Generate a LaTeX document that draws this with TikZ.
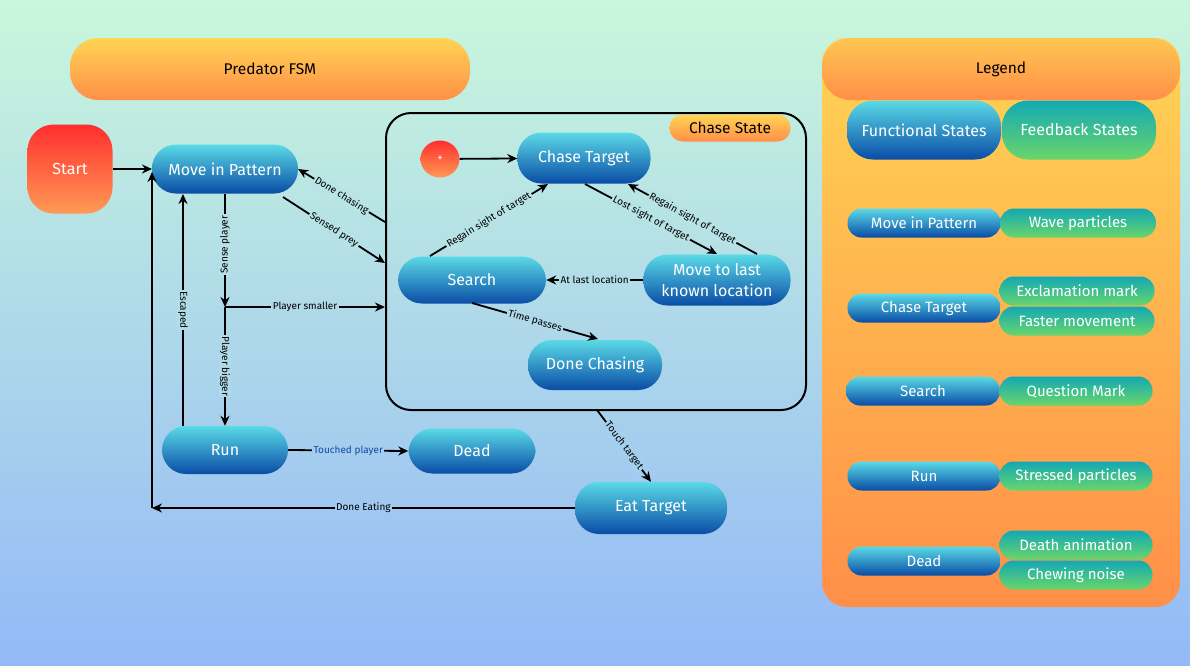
\documentclass[tikz,border=0pt]{standalone}
\usepackage{fontspec}
\setmainfont{Fira Sans}
\usetikzlibrary{arrows.meta,positioning,shapes.geometric}
\definecolor{bgtop}{HTML}{C9F7DC}
\definecolor{bgbot}{HTML}{93B9F7}
\definecolor{btop}{HTML}{5ADAE6}
\definecolor{bbot}{HTML}{0A4CA6}
\definecolor{gtop}{HTML}{12A9B4}
\definecolor{gbot}{HTML}{6AD56A}
\definecolor{otop}{HTML}{FFD454}
\definecolor{obot}{HTML}{FF8F48}
\definecolor{rtop}{HTML}{FF2E2E}
\definecolor{rbot}{HTML}{FF9A55}
\definecolor{lblue}{HTML}{0A4CA6}
\tikzset{
 x=1pt,y=-1pt,
 st/.style={minimum width=#1,inner sep=0pt,text=white,font=\fontsize{16}{18}\selectfont,top color=btop,bottom color=bbot,align=center},
 bs/.style={st=#1,minimum height=49,rounded corners=24},
 ls/.style={st=#1,minimum height=29,rounded corners=14,font=\fontsize{15}{17}\selectfont},
 gs/.style={ls=#1,top color=gtop,bottom color=gbot},
 os/.style={minimum width=#1,inner sep=0pt,top color=otop,bottom color=obot,font=\fontsize{15.5}{17}\selectfont},
 ar/.style={draw=black,line width=1.8pt,-{Stealth[length=10pt,width=9pt]}},
 lb/.style={font=\fontsize{10}{12}\selectfont,inner sep=1.5pt,fill=#1},
}
\begin{document}
\begin{tikzpicture}
\shade[top color=bgtop,bottom color=bgbot] (0,0) rectangle (1190,665);
\useasboundingbox (0,0) rectangle (1190,665);
% header
\node[os=400,minimum height=62,rounded corners=28] (title) at (270,69) {Predator FSM};
% legend panel
\shade[top color=otop,bottom color=obot,rounded corners=25] (822,38) rectangle (1180,607);
\node[os=358,minimum height=62,rounded corners=28,top color=otop!80!obot] (leg) at (1001,69) {Legend};
\node[st=154,minimum height=59,rounded corners=26] (lf) at (924,130) {Functional States};
\node[st=154,minimum height=59,rounded corners=26,top color=gtop,bottom color=gbot] (lfb) at (1079,130) {Feedback States};
\node[ls=153] (l1) at (924,223) {Move in Pattern};
\node[gs=156] (l1f) at (1078,223) {Wave particles};
\node[ls=153] (l2) at (924,308) {Chase Target};
\node[gs=155] (l2a) at (1077,291) {Exclamation mark};
\node[gs=155] (l2b) at (1077,321) {Faster movement};
\node[ls=154] (l3) at (923,391) {Search};
\node[gs=153] (l3f) at (1076,391) {Question Mark};
\node[ls=153] (l4) at (924,476) {Run};
\node[gs=153] (l4f) at (1076,476) {Stressed particles};
\node[ls=153] (l5) at (924,561) {Dead};
\node[gs=153] (l5a) at (1076,545) {Death animation};
\node[gs=153] (l5b) at (1076,575) {Chewing noise};
% chase box
\draw[line width=2pt,rounded corners=25] (386,113) rectangle (806,410);
\node[os=121,minimum height=27,rounded corners=13] (cs) at (730,128) {Chase State};
% nodes
\node[minimum width=85,minimum height=89,inner sep=0pt,rounded corners=26,top color=rtop,bottom color=rbot,text=white,font=\fontsize{16}{18}\selectfont] (start) at (70,169) {Start};
\node[bs=146] (mip) at (225,169) {Move in Pattern};
\node[ellipse,minimum width=39,minimum height=37,inner sep=0pt,top color=rtop,bottom color=rbot,text=white,font=\fontsize{11}{12}\selectfont] (plus) at (440,159) {+};
\node[bs=133,minimum height=51] (ct) at (584,158) {Chase Target};
\node[bs=148,minimum height=47] (se) at (472,280) {Search};
\node[bs=147,minimum height=51,font=\fontsize{16}{21}\selectfont] (mtl) at (717,280) {Move to last\\known location};
\node[bs=134,minimum height=50] (dc) at (595,365) {Done Chasing};
\node[bs=126,minimum height=48] (run) at (225,450) {Run};
\node[bs=127,minimum height=45] (dead) at (472,451) {Dead};
\node[bs=152,minimum height=52] (eat) at (651,508) {Eat Target};
% coordinates
\coordinate (eatL) at (152,508);
\coordinate (mipL) at (152,172);
\coordinate (j) at (225,307);
\coordinate (bxA) at (385,222);
\coordinate (bxB) at (385,263);
\coordinate (bxC) at (385,307);
\coordinate (bxD) at (597,410);
\coordinate (escA) at (183,426);
\coordinate (escB) at (183,194);
% edges
\draw[ar] (start.east) -- (152,169);
\draw[ar] (eat.west) -- node[lb=bgtop!24!bgbot]{Done Eating} (eatL);
\draw[ar] (eatL) -- (mipL);
\draw[ar] (mip.south) -- node[lb=bgtop!63!bgbot,rotate=90,pos=0.45]{Sense player} (j);
\draw[ar] (j) -- node[lb=bgtop!54!bgbot,rotate=-90]{Player bigger} (run.north);
\draw[ar] (j) -- node[lb=bgtop!54!bgbot]{Player smaller} (bxC);
\draw[ar] (escA) -- node[lb=bgtop!58!bgbot,rotate=-90]{Escaped} (escB);
\draw[ar] (283,197) -- node[lb=bgtop!66!bgbot,sloped]{Sensed prey} (bxB);
\draw[ar] (bxA) -- node[lb=bgtop!70!bgbot,sloped]{Done chasing} (mip.east);
\draw[ar] (plus) -- (ct);
\draw[ar] (430,256) -- node[lb=bgtop!68!bgbot,sloped]{Regain sight of target} (548,184);
\draw[ar] (585,184) -- node[lb=bgtop!68!bgbot,sloped]{Lost sight of target} (717,254);
\draw[ar] (757,254) -- node[lb=bgtop!68!bgbot,sloped]{Regain sight of target} (628,184);
\draw[ar] (mtl.west) -- node[lb=bgtop!58!bgbot]{At last location} (se.east);
\draw[ar] (472,303) -- node[lb=bgtop!52!bgbot,sloped]{Time passes} (598,339);
\draw[ar] (bxD) -- node[lb=bgtop!35!bgbot,sloped]{Touch target} (eat.north);
\draw[ar] (run.east) -- node[lb=bgtop!32!bgbot,text=lblue]{Touched player} (dead.west);
\end{tikzpicture}
\end{document}
